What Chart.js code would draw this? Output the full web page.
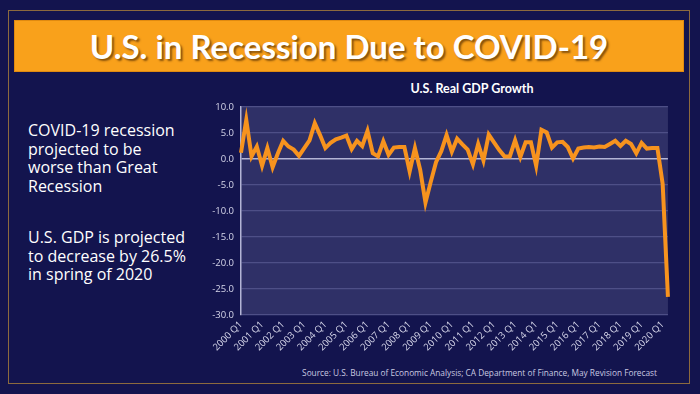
<!DOCTYPE html>
<html>
<head>
<meta charset="utf-8">
<script src="https://cdn.jsdelivr.net/npm/chart.js@4.4.1/dist/chart.umd.min.js"></script>
<style>
  html, body { margin: 0; padding: 0; }
  body { width: 700px; height: 394px; background: #13144e; position: relative; overflow: hidden; font-family: "Open Sans", sans-serif; }
  #frame { position: absolute; left: 8px; top: 10px; width: 682px; height: 374px; border: 1px solid #8c6a3e; box-sizing: border-box; }
  #banner { position: absolute; left: 14px; top: 20px; width: 670px; height: 52px; background: #f9a11b; border: 1px solid #e08a10; box-sizing: border-box;
            color: #fff; font-family: Lato, sans-serif; font-weight: bold; font-size: 33px; text-align: center; line-height: 50px;
            text-shadow: 2px 2px 2px rgba(60, 30, 0, 0.6); }
  .side { position: absolute; left: 28px; color: #fff; font-size: 16px; line-height: 18.5px; }
  #source { position: absolute; right: 43px; top: 367px; color: #c9c9e0; font-size: 8.3px; }
  #chartTitle { position: absolute; left: 372px; width: 200px; top: 81px; text-align: center; color: #fff; font-family: Lato, sans-serif; font-weight: bold; font-size: 12.5px; }
  #chartBox { position: absolute; left: 190px; top: 76px; width: 490px; height: 290px; }
</style>
</head>
<body>
<div id="frame"></div>
<div id="banner">U.S. in Recession Due to COVID-19</div>
<div class="side" style="top:121px">COVID-19 recession<br>projected to be<br>worse than Great<br>Recession</div>
<div class="side" style="top:228px">U.S. GDP is projected<br>to decrease by 26.5%<br>in spring of 2020</div>
<div id="source">Source: U.S. Bureau of Economic Analysis; CA Department of Finance, May Revision Forecast</div>
<div id="chartTitle">U.S. Real GDP Growth</div>
<div id="chartBox"><canvas id="gdpChart"></canvas></div>

<script>
// Real GDP growth, quarterly, annualized %
const years = [2000, 2001, 2002, 2003, 2004, 2005, 2006, 2007, 2008, 2009, 2010,
               2011, 2012, 2013, 2014, 2015, 2016, 2017, 2018, 2019, 2020];
const quarters = ['Q1', 'Q2', 'Q3', 'Q4'];

const gdpGrowth = [
  1.2, 7.5, 0.5, 2.4,      // 2000
  -1.3, 2.1, -1.6, 1.1,    // 2001
  3.5, 2.4, 1.8, 0.6,      // 2002
  2.1, 3.6, 6.9, 4.6,      // 2003
  2.1, 3.1, 3.8, 4.1,      // 2004
  4.5, 1.9, 3.5, 2.5,      // 2005
  5.4, 1.1, 0.5, 3.4,      // 2006
  0.8, 2.2, 2.3, 2.3,      // 2007
  -2.4, 2.1, -2.1, -8.4,   // 2008
  -4.4, -0.6, 1.5, 4.6,    // 2009
  1.4, 3.9, 2.8, 1.8,      // 2010
  -1.0, 2.9, -0.3, 4.7,    // 2011
  3.2, 1.7, 0.5, 0.5,      // 2012
  3.6, 0.4, 3.2, 3.2,      // 2013
  -1.3, 5.6, 5.1, 2.2,     // 2014
  3.2, 3.3, 2.3, 0.1,      // 2015
  2.0, 2.2, 2.3, 2.2,      // 2016
  2.4, 2.3, 2.9, 3.5,      // 2017
  2.5, 3.5, 2.9, 1.1,      // 2018
  3.1, 2.0, 2.1, 2.1,      // 2019
  -4.8, -26.5              // 2020
];

const yMin = -30;
const yMax = 10;
const yStep = 5;

const labels = [];
years.forEach(y => quarters.forEach(q => labels.push(y + ' ' + q)));
labels.length = gdpGrowth.length;

// fond de la zone de tracé
const plotBg = {
  id: 'plotBg',
  beforeDraw(chart) {
    const a = chart.chartArea;
    const ctx = chart.ctx;
    ctx.save();
    ctx.fillStyle = '#2f3067';
    ctx.fillRect(a.left, a.top, a.right - a.left, a.bottom - a.top);
    ctx.restore();
  }
};

const ctx = document.getElementById('gdpChart').getContext('2d');
new Chart(ctx, {
  type: 'line',
  data: {
    labels: labels,
    datasets: [{
      label: 'U.S. Real GDP Growth',
      data: gdpGrowth,
      borderColor: '#f7931e',
      borderWidth: 4,
      pointRadius: 0,
      tension: 0,
      fill: false
    }]
  },
  options: {
    responsive: true,
    maintainAspectRatio: false,
    animation: false,
    layout: { padding: { left: 0, right: 12, top: 31, bottom: 6 } },
    plugins: {
      legend: { display: false },
      tooltip: { enabled: false },
      title: { display: false }
    },
    scales: {
      x: {
        grid: { display: false, drawTicks: false },
        border: { display: false },
        ticks: {
          autoSkip: false,
          minRotation: 45,
          maxRotation: 45,
          padding: 4,
          color: '#d6d6ea',
          font: { family: 'Open Sans', size: 9.5 },
          callback: function (v, i) { return i % 4 === 0 ? labels[i] : ''; }
        },
        afterFit: function (scale) { scale.height = 45; }
      },
      y: {
        min: yMin,
        max: yMax,
        grid: {
          drawTicks: false,
          lineWidth: ctx => ctx.tick.value === 0 ? 1.5 : 1.2,
          color: ctx => ctx.tick.value === 0 ? '#b4b5d6' : '#4e4f87'
        },
        border: { display: true, color: '#b4b5d6', width: 1.5 },
        ticks: {
          stepSize: yStep,
          padding: 7,
          color: '#d6d6ea',
          font: { family: 'Open Sans', size: 9.5 },
          callback: v => v.toFixed(1)
        },
        afterFit: function (scale) { scale.width = 51; }
      }
    }
  },
  plugins: [plotBg]
});
</script>
</body>
</html>
